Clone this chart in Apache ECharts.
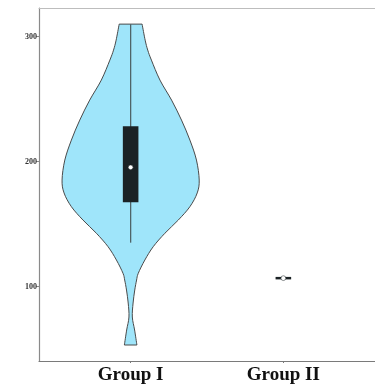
<!DOCTYPE html>
<html>
<head>
<meta charset="utf-8">
<script src="https://cdn.jsdelivr.net/npm/echarts@6/dist/echarts.min.js"></script>
<style>html,body{margin:0;padding:0;background:#fff;}#c{width:375px;height:387px;}</style>
</head>
<body>
<div id="c"></div>
<script>
const categories = ['Group I', 'Group II'];
const yTicks = [100, 200, 300];
// Violin outline of Group I: values along y and the half-width (in category units)
const violinValues = [310.1, 297.3, 289.3, 281.3, 265.3, 249.3, 233.3, 217.3, 201.3, 185.3, 175.0, 164.0, 153.3, 142.7, 132.0, 121.3, 110.7, 105.3, 97.3, 86.9, 75.7, 65.3, 53.3];
const violinHalfWidths = [0.075, 0.095, 0.112, 0.136, 0.192, 0.268, 0.333, 0.388, 0.431, 0.449, 0.436, 0.388, 0.312, 0.224, 0.148, 0.093, 0.050, 0.039, 0.027, 0.016, 0.011, 0.026, 0.041];
// Box statistics: [whiskerLow, Q1, median, Q3, whiskerHigh]
const groupIBox = [135.2, 167.5, 195.5, 228.3, 310.1];
const groupIIBox = [106.8, 105.8, 106.8, 107.8, 106.8];
const boxes = [groupIBox, groupIIBox];

const chart = echarts.init(document.getElementById('c'), null, {renderer: 'canvas'});
const BOX_HALF = 0.051;

const violinData = [[1]];
const boxData = boxes.map((b, i) => [i + 1].concat(b));

// Catmull-Rom -> cubic Bezier path segment through pixel points (rendering only)
function smoothSegs(p) {
  let d = '';
  for (let i = 0; i < p.length - 1; i++) {
    const p0 = p[Math.max(i - 1, 0)], p1 = p[i], p2 = p[i + 1], p3 = p[Math.min(i + 2, p.length - 1)];
    const c1 = [p1[0] + (p2[0] - p0[0]) / 6, p1[1] + (p2[1] - p0[1]) / 6];
    const c2 = [p2[0] - (p3[0] - p1[0]) / 6, p2[1] - (p3[1] - p1[1]) / 6];
    d += ' C' + c1[0] + ' ' + c1[1] + ' ' + c2[0] + ' ' + c2[1] + ' ' + p2[0] + ' ' + p2[1];
  }
  return d;
}

const option = {
  animation: false,
  backgroundColor: '#ffffff',
  grid: {left: 39, right: -1, top: 8, bottom: 26, containLabel: false},
  xAxis: [{
    type: 'value', min: 0.4, max: 2.6, position: 'bottom',
    axisLine: {show: true, lineStyle: {color: '#7a7a7a', width: 1.2}},
    axisTick: {show: true, customValues: [1, 2], length: 2, lineStyle: {color: '#7a7a7a'}},
    axisLabel: {
      show: true, customValues: [1, 2], margin: 5,
      formatter: v => categories[Math.round(v) - 1] || '',
      fontFamily: 'Liberation Serif', fontWeight: 'bold', fontSize: 19, color: '#111'
    },
    splitLine: {show: false}
  }, {
    type: 'value', min: 0.4, max: 2.6, position: 'top',
    axisLine: {show: true, onZero: false, lineStyle: {color: '#bdbdbd', width: 1}},
    axisTick: {show: false}, axisLabel: {show: false}, splitLine: {show: false}
  }],
  yAxis: {
    type: 'value', min: 40.5, max: 323,
    axisLine: {show: true, lineStyle: {color: '#8a8a8a', width: 1.2}},
    axisTick: {show: true, customValues: yTicks, length: 3, lineStyle: {color: '#8a8a8a'}},
    axisLabel: {
      show: true, customValues: yTicks, margin: 2,
      fontFamily: 'Liberation Serif', fontWeight: 'bold', fontSize: 8, color: '#333'
    },
    splitLine: {show: false}
  },
  series: [{
    type: 'custom',
    data: violinData,
    z: 2,
    renderItem: function (params, api) {
      const cx = api.value(0);
      const right = violinValues.map((v, i) => api.coord([cx + violinHalfWidths[i], v]));
      const left = violinValues.map((v, i) => api.coord([cx - violinHalfWidths[i], v])).reverse();
      let d = 'M' + right[0][0] + ' ' + right[0][1];
      d += smoothSegs(right);
      d += ' L' + left[0][0] + ' ' + left[0][1];
      d += smoothSegs(left);
      d += ' Z';
      return {
        type: 'path',
        shape: {pathData: d},
        style: {fill: '#9fe5fa', stroke: '#4a4a4a', lineWidth: 1}
      };
    }
  }, {
    type: 'custom',
    data: boxData,
    z: 3,
    renderItem: function (params, api) {
      const x = api.value(0);
      const lo = api.value(1), q1 = api.value(2), med = api.value(3), q3 = api.value(4), hi = api.value(5);
      const pLo = api.coord([x, lo]);
      const pHi = api.coord([x, hi]);
      const a = api.coord([x - BOX_HALF, q3]);
      const b = api.coord([x + BOX_HALF, q1]);
      const m = api.coord([x, med]);
      return {
        type: 'group',
        children: [{
          type: 'line',
          shape: {x1: pLo[0], y1: pLo[1], x2: pHi[0], y2: pHi[1]},
          style: {stroke: '#4f6468', lineWidth: 1.3}
        }, {
          type: 'rect',
          shape: {x: a[0], y: a[1], width: b[0] - a[0], height: Math.max(b[1] - a[1], 2)},
          style: {fill: '#1b2225'}
        }, {
          type: 'circle',
          shape: {cx: m[0], cy: m[1], r: 2.4},
          style: {fill: '#ffffff', stroke: '#1b2225', lineWidth: 0.5}
        }]
      };
    }
  }]
};
chart.setOption(option);
</script>
</body>
</html>
